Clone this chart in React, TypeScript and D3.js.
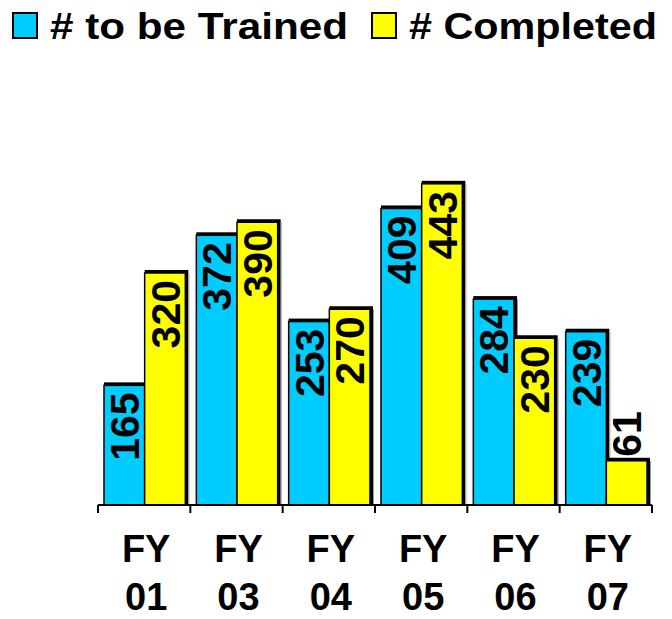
import React from 'react';
import * as d3 from 'd3';

const categories = ['FY 01', 'FY 03', 'FY 04', 'FY 05', 'FY 06', 'FY 07'];
const seriesNames = ['# to be Trained', '# Completed'];
const toBeTrained = [165, 372, 253, 409, 284, 239];
const completed = [320, 390, 270, 443, 230, 61];
const colors = ['#00ccff', '#ffff00'];

const W = 672;
const H = 619;
const font = '"Liberation Sans", Arial, Helvetica, sans-serif';

const App = () => {
  // plot frame
  const left = 98;
  const right = 652;
  const base = 505;

  const x = d3.scaleBand().domain(categories).range([left, right]).padding(0);
  const inner = d3
    .scaleBand()
    .domain(seriesNames)
    .range([6, x.bandwidth() - 5])
    .padding(0);
  const y = d3.scaleLinear().domain([0, 500]).range([base, 142.5]);

  const series = [toBeTrained, completed];
  const labelSize = 41;

  return (
    <svg
      width={W}
      height={H}
      style={{ position: 'absolute', left: 0, top: 0, background: '#fff' }}
      fontFamily={font}
      fontWeight="bold"
    >
      {/* legend */}
      <rect x={13} y={13} width={24} height={25} fill={colors[0]} stroke="#000" strokeWidth={2} />
      <text x={50} y={39} fontSize={37} textLength={298} lengthAdjust="spacingAndGlyphs">
        {seriesNames[0]}
      </text>
      <rect x={372} y={13} width={24} height={25} fill={colors[1]} stroke="#000" strokeWidth={2} />
      <text x={409} y={39} fontSize={37} textLength={248} lengthAdjust="spacingAndGlyphs">
        {seriesNames[1]}
      </text>

      {/* bars */}
      {categories.map((c, i) => (
        <g key={c}>
          {seriesNames.map((s, j) => {
            const v = series[j][i];
            const bx = (x(c) as number) + (inner(s) as number);
            const bw = inner.bandwidth();
            const top = y(v);
            const h = base - top;
            const cx = bx + bw / 2 + labelSize * 0.36;
            const fits = h > labelSize * 1.668 + 14;
            return (
              <g key={s}>
                {/* 3d edge */}
                <rect x={bx} y={top - 3} width={bw + 3} height={h + 3} fill="#000" />
                <rect x={bx + bw + 3} y={top} width={1} height={h} fill="#999" />
                <rect
                  x={bx}
                  y={top}
                  width={bw}
                  height={h}
                  fill={colors[j]}
                  stroke="#000"
                  strokeWidth={1.5}
                />
                <text
                  transform={`translate(${cx},${fits ? top + 7 : top - 4}) rotate(-90)`}
                  textAnchor={fits ? 'end' : 'start'}
                  fontSize={labelSize}
                >
                  {v}
                </text>
              </g>
            );
          })}
        </g>
      ))}

      {/* axis */}
      <line x1={left} x2={right} y1={base} y2={base} stroke="#000" strokeWidth={2} />
      {d3.range(categories.length + 1).map((k) => {
        const tx = left + k * x.bandwidth();
        return <line key={k} x1={tx} x2={tx} y1={base} y2={base + 8} stroke="#000" strokeWidth={2} />;
      })}
      {categories.map((c) => {
        const [a, b] = c.split(' ');
        const cx = (x(c) as number) + x.bandwidth() / 2 + 2;
        return (
          <text key={c} x={cx} textAnchor="middle" fontSize={38}>
            <tspan x={cx} y={562}>{a}</tspan>
            <tspan x={cx} y={610}>{b}</tspan>
          </text>
        );
      })}
    </svg>
  );
};

export default App;
